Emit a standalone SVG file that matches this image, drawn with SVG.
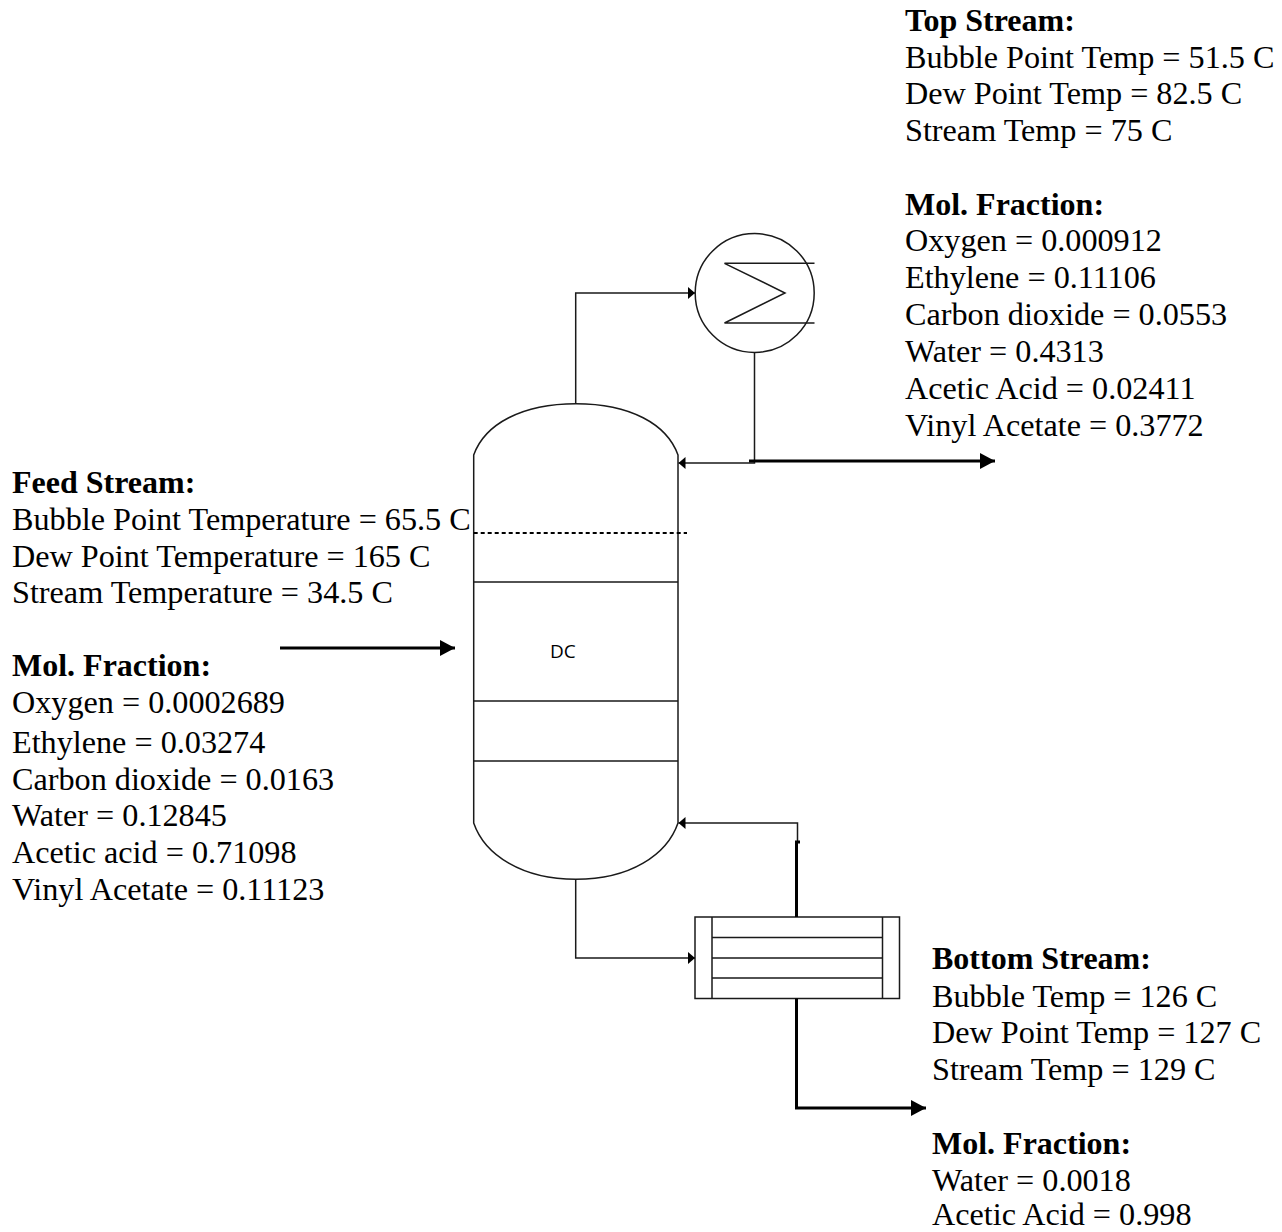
<svg xmlns="http://www.w3.org/2000/svg" width="1282" height="1232" viewBox="0 0 1282 1232">
<style>
text{font-family:"Liberation Serif","Times New Roman",serif;font-size:32.2px;fill:#000}
.b{font-weight:bold;font-size:32px}
.s{font-family:"Open Sans","Liberation Sans",sans-serif;font-size:19px}
.l{fill:none;stroke:#1a1a1a;stroke-width:1.5}
.t{fill:none;stroke:#000;stroke-width:3}
</style>
<defs>
<marker id="a" markerUnits="userSpaceOnUse" markerWidth="8" markerHeight="12" refX="7" refY="6" orient="auto"><path d="M0 0L7 6L0 12Z" fill="#000"/></marker>
<marker id="A" markerUnits="userSpaceOnUse" markerWidth="16" markerHeight="16" refX="15" refY="8" orient="auto"><path d="M0 0L15 8L0 16Z" fill="#000"/></marker>
</defs>
<rect width="1282" height="1232" fill="#fff"/>
<g id="column">
<path class="l" d="M473.7 455C484.7 424 522 403.7 576 403.7C630 403.7 667 424 678 455V823C667 855 630 879.3 576 879.3C522 879.3 484.7 855 473.7 823Z"/>
<path class="l" d="M473.7 582H678M473.7 701H678M473.7 761H678"/>
<path d="M473.7 533H687" fill="none" stroke="#000" stroke-width="2" stroke-dasharray="4 3"/>
<text class="s" x="550" y="658">DC</text>
</g>
<g id="condenser">
<circle class="l" cx="754.7" cy="293" r="59.5"/>
<path class="l" d="M814.5 263.3H724.5L785 293L724.5 323H814.5"/>
</g>
<g id="reboiler">
<rect class="l" x="695" y="917" width="204.5" height="81.5"/>
<path class="l" d="M712 917V998.5M882.5 917V998.5M712 937.5H882.5M712 958H882.5M712 978H882.5"/>
</g>
<g id="connectors">
<path class="l" marker-end="url(#a)" d="M575.7 403.7V293H695"/>
<path class="l" marker-end="url(#a)" d="M754.5 352.5V463H678.5"/>
<path class="l" marker-end="url(#a)" d="M575.7 879.3V958H695"/>
<path class="l" marker-end="url(#a)" d="M797.5 842V823H678.5"/>
<path class="t" marker-end="url(#A)" d="M749 461H995"/>
<path class="t" marker-end="url(#A)" d="M280 648H455"/>
<path class="t" d="M796.5 917V842H800"/>
<path class="t" marker-end="url(#A)" d="M796.5 998.5V1108H926"/>
</g>
<g id="top-stream">
<text class="b" x="905" y="31">Top Stream:</text>
<text x="905" y="68">Bubble Point Temp = 51.5 C</text>
<text x="905" y="104">Dew Point Temp = 82.5 C</text>
<text x="905" y="141">Stream Temp = 75 C</text>
<text class="b" x="905" y="215">Mol. Fraction:</text>
<text x="905" y="251">Oxygen = 0.000912</text>
<text x="905" y="288">Ethylene = 0.11106</text>
<text x="905" y="325">Carbon dioxide = 0.0553</text>
<text x="905" y="362">Water = 0.4313</text>
<text x="905" y="399">Acetic Acid = 0.02411</text>
<text x="905" y="436">Vinyl Acetate = 0.3772</text>
</g>
<g id="feed-stream">
<text class="b" x="12" y="493">Feed Stream:</text>
<text x="12" y="530">Bubble Point Temperature = 65.5 C</text>
<text x="12" y="567">Dew Point Temperature = 165 C</text>
<text x="12" y="603">Stream Temperature = 34.5 C</text>
<text class="b" x="12" y="676">Mol. Fraction:</text>
<text x="12" y="713">Oxygen = 0.0002689</text>
<text x="12" y="753">Ethylene = 0.03274</text>
<text x="12" y="790">Carbon dioxide = 0.0163</text>
<text x="12" y="826">Water = 0.12845</text>
<text x="12" y="863">Acetic acid = 0.71098</text>
<text x="12" y="900">Vinyl Acetate = 0.11123</text>
</g>
<g id="bottom-stream">
<text class="b" x="932" y="969">Bottom Stream:</text>
<text x="932" y="1007">Bubble Temp = 126 C</text>
<text x="932" y="1043">Dew Point Temp = 127 C</text>
<text x="932" y="1080">Stream Temp = 129 C</text>
<text class="b" x="932" y="1154">Mol. Fraction:</text>
<text x="932" y="1191">Water = 0.0018</text>
<text x="932" y="1225">Acetic Acid = 0.998</text>
</g>
</svg>
